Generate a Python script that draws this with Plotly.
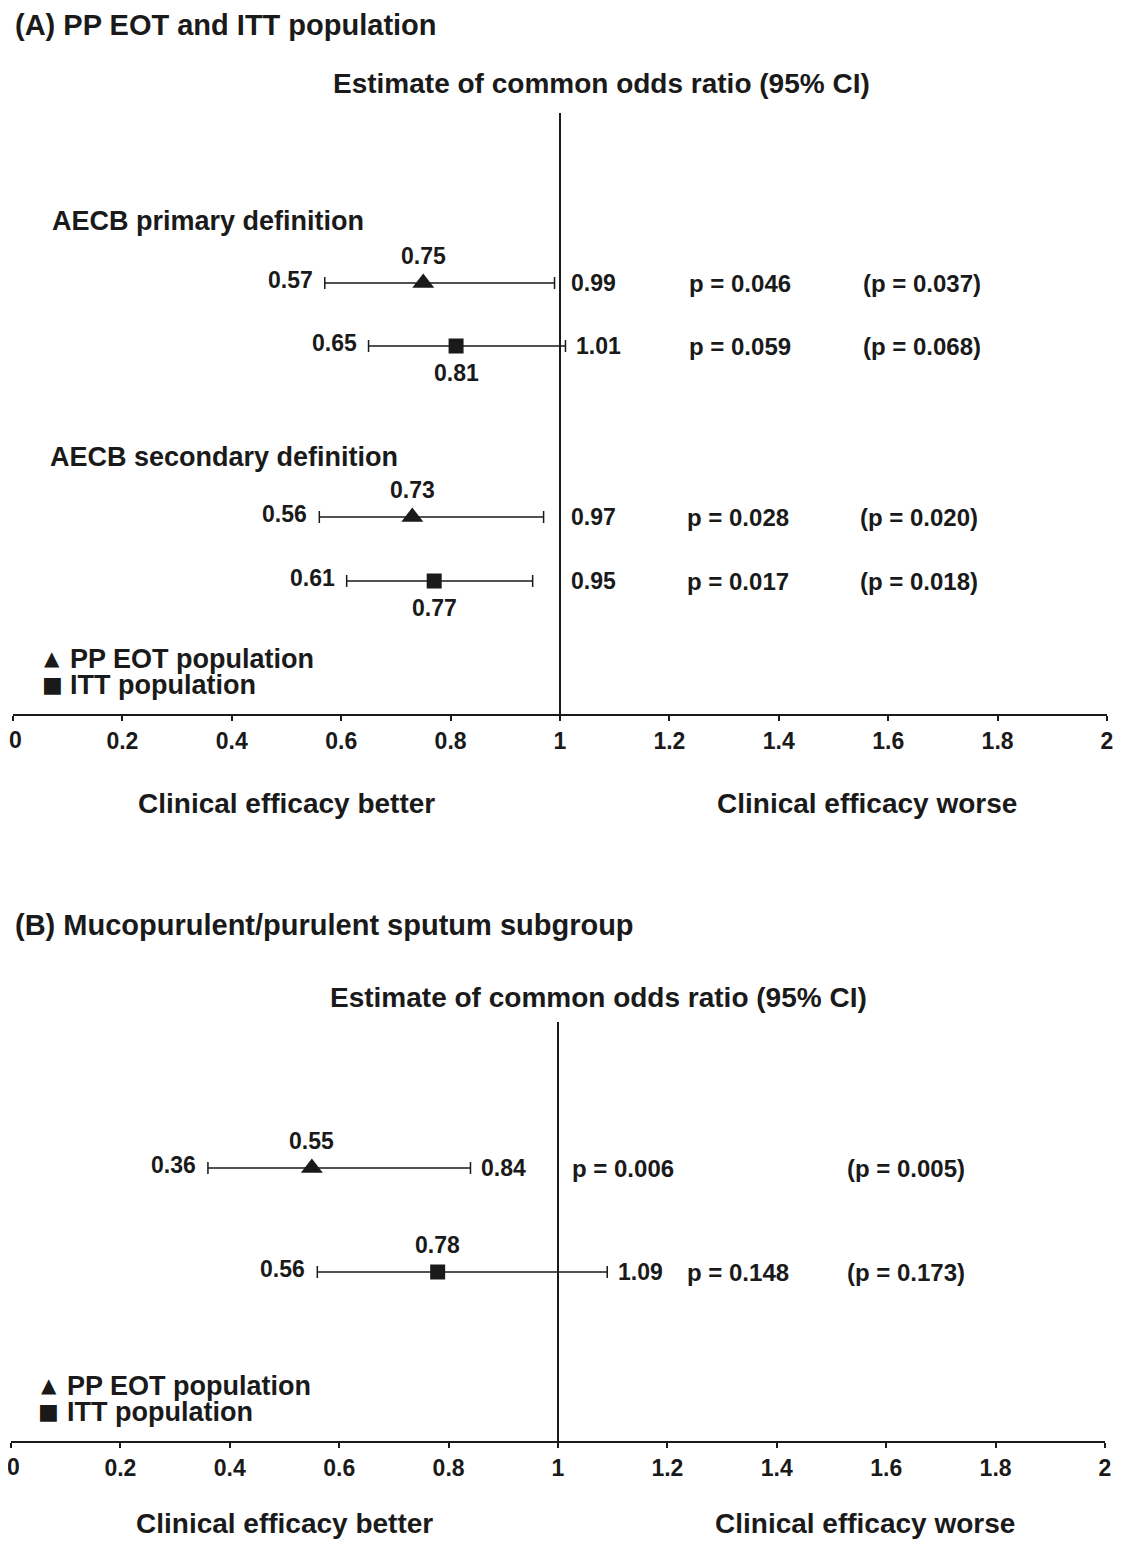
import plotly.graph_objects as go

# The page body has an 8px margin, so the figure is drawn 8px smaller than the window
# and every reference pixel position is shifted by OFF.
WIN_W, WIN_H = 1121, 1543
OFF = 8
W, H = WIN_W - OFF, WIN_H - OFF

# ---------------- data ----------------
# Panel A: PP EOT and ITT population
a_groups = ["AECB primary definition", "AECB secondary definition"]
a_pop = ["PP EOT", "ITT", "PP EOT", "ITT"]
a_est = [0.75, 0.81, 0.73, 0.77]
a_lo = [0.57, 0.65, 0.56, 0.61]
a_hi = [0.99, 1.01, 0.97, 0.95]
a_p = ["p = 0.046", "p = 0.059", "p = 0.028", "p = 0.017"]
a_p2 = ["(p = 0.037)", "(p = 0.068)", "(p = 0.020)", "(p = 0.018)"]

# Panel B: Mucopurulent/purulent sputum subgroup
b_pop = ["PP EOT", "ITT"]
b_est = [0.55, 0.78]
b_lo = [0.36, 0.56]
b_hi = [0.84, 1.09]
b_p = ["p = 0.006", "p = 0.148"]
b_p2 = ["(p = 0.005)", "(p = 0.173)"]

tick_vals = [0, 0.2, 0.4, 0.6, 0.8, 1.0, 1.2, 1.4, 1.6, 1.8, 2.0]
tick_text = ["0", "0.2", "0.4", "0.6", "0.8", "1", "1.2", "1.4", "1.6", "1.8", "2"]

# ---------------- layout helpers ----------------
FONT = "Liberation Sans, Arial, Helvetica, sans-serif"
INK = "#1a1a1a"
SYMBOL = {"PP EOT": "triangle-up", "ITT": "square"}
SIZE = {"PP EOT": 19, "ITT": 15}

def fx(px):
    return (px - OFF) / W

def fy(py):
    return 1 - (py - OFF) / H

def fnt(size):
    return dict(size=size, color=INK, family=FONT, weight="bold")

# row positions (panel units = pixels above the axis line)
a_row_y = [431, 368, 197, 133]
a_group_y = [493, 257]
a_group_x = [50, 48]
a_est_side = [1, -1, 1, -1]
a_p_x = [1.232, 1.232, 1.228, 1.228]
a_p2_x = [1.550, 1.550, 1.545, 1.545]

b_row_y = [273, 169]
b_est_side = [1, 1]
b_p_x = [1.022, 1.232]
b_p2_x = [1.525, 1.525]

VAL = 23
TICK = 23

fig = go.Figure()
annotations = []
shapes = []

def add_panel(xa, ya, rows_y, pops, est, lo, hi, pvals, p2vals, px_list, p2x_list,
              est_side, hi_anchor_line):
    xref = "x" if xa == 1 else "x%d" % xa
    yref = "y" if ya == 1 else "y%d" % ya
    for pop in ["PP EOT", "ITT"]:
        idx = [i for i, p in enumerate(pops) if p == pop]
        if not idx:
            continue
        fig.add_trace(go.Scatter(
            x=[est[i] for i in idx], y=[rows_y[i] for i in idx],
            xaxis=xref, yaxis=yref, mode="markers", showlegend=False,
            name=pop + " population",
            marker=dict(symbol=SYMBOL[pop], size=SIZE[pop], color=INK,
                        line=dict(width=0)),
            error_x=dict(type="data", symmetric=False,
                         array=[hi[i] - est[i] for i in idx],
                         arrayminus=[est[i] - lo[i] for i in idx],
                         color=INK, thickness=1.5, width=6),
        ))
    for i in range(len(est)):
        y = rows_y[i]
        annotations.append(dict(x=lo[i], y=y, xref=xref, yref=yref, text="%.2f" % lo[i],
                                xanchor="right", yanchor="middle", xshift=-10, yshift=3,
                                showarrow=False, font=fnt(VAL)))
        hx = max(hi[i], 1.0) if hi_anchor_line else hi[i]
        annotations.append(dict(x=hx, y=y, xref=xref, yref=yref, text="%.2f" % hi[i],
                                xanchor="left", yanchor="middle", xshift=9,
                                showarrow=False, font=fnt(VAL)))
        annotations.append(dict(x=est[i], y=y, xref=xref, yref=yref, text="%.2f" % est[i],
                                xanchor="center", yanchor="middle", yshift=27 * est_side[i],
                                showarrow=False, font=fnt(VAL)))
        annotations.append(dict(x=px_list[i], y=y, xref=xref, yref=yref, text=pvals[i],
                                xanchor="left", yanchor="middle", showarrow=False,
                                font=fnt(VAL + 1)))
        annotations.append(dict(x=p2x_list[i], y=y, xref=xref, yref=yref, text=p2vals[i],
                                xanchor="left", yanchor="middle", showarrow=False,
                                font=fnt(VAL + 1)))
    shapes.append(dict(type="line", xref=xref, yref=yref + " domain", x0=1, x1=1, y0=0, y1=1,
                       line=dict(color=INK, width=2)))
    # the first tick label sits at the very page edge: draw it nudged inward so it is not clipped
    annotations.append(dict(x=tick_vals[0], y=0, xref=xref, yref=yref + " domain",
                            text=tick_text[0], xanchor="center", yanchor="middle",
                            xshift=2, yshift=-26, showarrow=False, font=fnt(TICK)))

add_panel(1, 1, a_row_y, a_pop, a_est, a_lo, a_hi, a_p, a_p2, a_p_x, a_p2_x, a_est_side, True)
add_panel(2, 2, b_row_y, b_pop, b_est, b_lo, b_hi, b_p, b_p2, b_p_x, b_p2_x, b_est_side, False)

# group headers (panel A)
for g, gy, gx in zip(a_groups, a_group_y, a_group_x):
    annotations.append(dict(x=fx(gx), y=gy, xref="paper", yref="y", text=g, xanchor="left",
                            yanchor="middle", showarrow=False, font=fnt(27)))

# legend keys
for yref, sx, tx in [("y", 52, 68), ("y2", 49, 65)]:
    annotations.append(dict(x=fx(sx), y=56, xref="paper", yref=yref, text="\u25B2",
                            xanchor="center", yanchor="middle", showarrow=False,
                            font=dict(size=20, color=INK, family="DejaVu Sans")))
    annotations.append(dict(x=fx(sx), y=30, xref="paper", yref=yref, text="\u25A0",
                            xanchor="center", yanchor="middle", showarrow=False,
                            font=dict(size=22, color=INK, family="DejaVu Sans")))
    annotations.append(dict(x=fx(tx), y=55, xref="paper", yref=yref,
                            text="PP EOT population", xanchor="left", yanchor="middle",
                            showarrow=False, font=fnt(27)))
    annotations.append(dict(x=fx(tx), y=29, xref="paper", yref=yref,
                            text="ITT population", xanchor="left", yanchor="middle",
                            showarrow=False, font=fnt(27)))

def ptext(text, xpx, ypx, size, anchor="center"):
    annotations.append(dict(x=fx(xpx), y=fy(ypx), xref="paper", yref="paper", text=text,
                            xanchor=anchor, yanchor="middle", showarrow=False, font=fnt(size)))

ptext("(A) PP EOT and ITT population", 13, 25, 29, "left")
ptext("Estimate of common odds ratio (95% CI)", 601, 84, 28)
ptext("Clinical efficacy better", 286, 803, 28)
ptext("Clinical efficacy worse", 867, 803, 28)
ptext("(B) Mucopurulent/purulent sputum subgroup", 13, 925, 29, "left")
ptext("Estimate of common odds ratio (95% CI)", 598, 997, 28)
ptext("Clinical efficacy better", 284, 1523, 28)
ptext("Clinical efficacy worse", 865, 1523, 28)

axis_tick_text = [""] + tick_text[1:]
xaxis_common = dict(range=[0, 2], tickvals=tick_vals, ticktext=axis_tick_text, showgrid=False,
                    zeroline=False, showline=True, linecolor=INK, linewidth=2,
                    ticks="outside", ticklen=5, tickwidth=1.5, tickcolor=INK,
                    tickfont=fnt(TICK), automargin=False, ticklabeloverflow="allow",
                    fixedrange=True)
yaxis_common = dict(visible=False, showgrid=False, zeroline=False, automargin=False,
                    fixedrange=True)

fig.update_layout(
    width=W, height=H,
    margin=dict(l=0, r=0, t=0, b=0, autoexpand=False),
    paper_bgcolor="white", plot_bgcolor="white",
    xaxis=dict(domain=[fx(13), fx(1107)], anchor="y", **xaxis_common),
    yaxis=dict(domain=[fy(714), fy(113)], range=[0, 601], anchor="x", **yaxis_common),
    xaxis2=dict(domain=[fx(11), fx(1105)], anchor="y2", **xaxis_common),
    yaxis2=dict(domain=[fy(1441), fy(1022)], range=[0, 419], anchor="x2", **yaxis_common),
    annotations=annotations,
    shapes=shapes,
    showlegend=False,
)

fig.write_html("out.html")
